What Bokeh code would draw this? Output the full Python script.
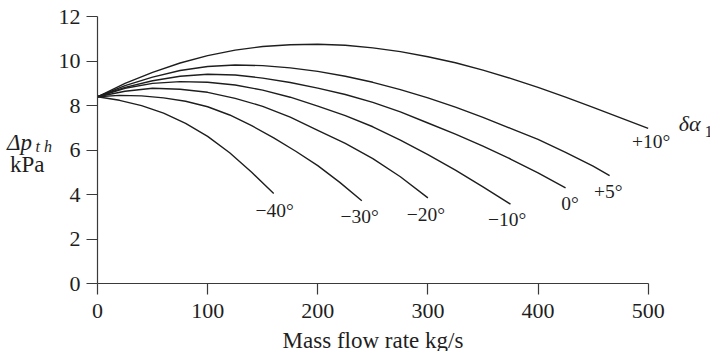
from bokeh.plotting import figure
from bokeh.models import Range1d, FixedTicker
from bokeh.layouts import row, column
from bokeh.core.properties import value
from bokeh.embed import file_html
from bokeh.resources import INLINE

# ---- data ----
x_p10 = [0, 25, 50, 75, 100, 125, 150, 175, 200, 225, 250, 275, 300, 325, 350, 375, 400, 425, 450, 475, 500]
y_p10 = [8.4, 9.0, 9.5, 9.92, 10.25, 10.5, 10.66, 10.74, 10.76, 10.72, 10.6, 10.43, 10.2, 9.93, 9.6, 9.23, 8.82, 8.38, 7.92, 7.45, 6.98]

x_p5 = [0, 25, 50, 75, 100, 125, 150, 175, 200, 225, 250, 275, 300, 325, 350, 375, 400, 425, 450, 465]
y_p5 = [8.4, 8.9, 9.28, 9.58, 9.76, 9.83, 9.8, 9.7, 9.54, 9.32, 9.05, 8.72, 8.35, 7.93, 7.47, 6.98, 6.48, 5.9, 5.28, 4.85]

x_0 = [0, 25, 50, 75, 100, 125, 150, 175, 200, 225, 250, 275, 300, 325, 350, 375, 400, 425]
y_0 = [8.4, 8.82, 9.12, 9.32, 9.41, 9.38, 9.24, 9.04, 8.79, 8.5, 8.15, 7.72, 7.22, 6.72, 6.18, 5.6, 4.98, 4.3]

x_m10 = [0, 25, 50, 75, 100, 125, 150, 175, 200, 225, 250, 275, 300, 325, 350, 375]
y_m10 = [8.4, 8.78, 9.0, 9.08, 9.05, 8.93, 8.7, 8.38, 7.98, 7.55, 7.05, 6.45, 5.8, 5.1, 4.35, 3.57]

x_m20 = [0, 25, 50, 75, 100, 125, 150, 175, 200, 225, 250, 275, 300]
y_m20 = [8.4, 8.65, 8.78, 8.74, 8.6, 8.33, 7.97, 7.48, 6.89, 6.3, 5.62, 4.8, 3.85]

x_m30 = [0, 20, 40, 60, 80, 100, 120, 140, 160, 180, 200, 220, 240]
y_m30 = [8.4, 8.46, 8.44, 8.35, 8.2, 7.95, 7.58, 7.1, 6.55, 5.95, 5.3, 4.55, 3.72]

x_m40 = [0, 20, 40, 60, 80, 100, 120, 140, 160]
y_m40 = [8.4, 8.24, 8.0, 7.66, 7.2, 6.62, 5.88, 5.0, 4.05]

curve_labels = ["+10°", "+5°", "0°", "−10°", "−20°", "−30°", "−40°"]
label_x = [502.7, 463.7, 429, 372, 298.2, 238, 160.8]
label_y = [6.4, 4.14, 3.6, 2.9, 3.12, 3.02, 3.3]

x_ticks = [0, 100, 200, 300, 400, 500]
y_ticks = [0, 2, 4, 6, 8, 10, 12]

x_title = "Mass flow rate kg/s"
y_title_sym = "Δp"
y_title_sub = "t h"
y_title_unit = "kPa"
param_sym = "δα"
param_sub = "1"

FONT = "Liberation Serif"
INK = "#1e1e1e"
Y_RANGE = (0, 12.28)


def blank(w, h, xr, yr):
    f = figure(width=w, height=h, output_backend="svg", toolbar_location=None,
               x_range=xr, y_range=yr, x_axis_type=None, y_axis_type=None,
               min_border=0)
    f.outline_line_color = None
    f.background_fill_color = "white"
    f.border_fill_color = "white"
    f.xgrid.visible = False
    f.ygrid.visible = False
    return f


# ---- main plot ----
p = figure(width=618, height=330, output_backend="svg", toolbar_location=None,
           x_range=Range1d(0, 522.1), y_range=Range1d(*Y_RANGE),
           min_border_left=43, min_border_right=0, min_border_top=10, min_border_bottom=47)
p.outline_line_color = None
p.xgrid.visible = False
p.ygrid.visible = False
p.background_fill_color = "white"
p.border_fill_color = "white"

for ax, ticks in ((p.xaxis, x_ticks), (p.yaxis, y_ticks)):
    ax.ticker = FixedTicker(ticks=ticks)
    ax.bounds = (ticks[0], ticks[-1])
    ax.minor_tick_line_color = None
    ax.major_tick_in = 0
    ax.major_tick_out = 11
    ax.axis_line_color = "#3a3a3a"
    ax.major_tick_line_color = "#3a3a3a"
    ax.axis_line_width = 1.2
    ax.major_tick_line_width = 1.2
    ax.major_label_text_font = FONT
    ax.major_label_text_font_size = "22px"
    ax.major_label_text_color = INK
p.xaxis.major_label_standoff = 9
p.yaxis.major_label_standoff = 6

series = [(x_p10, y_p10), (x_p5, y_p5), (x_0, y_0), (x_m10, y_m10),
          (x_m20, y_m20), (x_m30, y_m30), (x_m40, y_m40)]
for xs, ys in series:
    p.line(xs, ys, line_color=INK, line_width=1.4)

p.text(x=label_x, y=label_y, text=curve_labels, text_font=value(FONT),
       text_font_size="19.5px", text_align="center", text_baseline="middle", text_color=INK)

# ---- left strip: y-axis title (same vertical scale as the main plot) ----
left = blank(54, 330, Range1d(0, 54), Range1d(*Y_RANGE))
left.text(x=[6.5], y=[6.32], text=[y_title_sym], text_font=value(FONT), text_font_style="italic",
          text_font_size="23px", text_color=INK, text_baseline="middle")
left.text(x=[35], y=[6.15], text=[y_title_sub], text_font=value(FONT), text_font_style="italic",
          text_font_size="16px", text_color=INK, text_baseline="middle")
left.text(x=[9.5], y=[5.35], text=[y_title_unit], text_font=value(FONT),
          text_font_size="23px", text_color=INK, text_baseline="middle")

# ---- right strip: parameter symbol ----
right = blank(38, 330, Range1d(0, 38), Range1d(*Y_RANGE))
right.text(x=[6.3], y=[7.2], text=[param_sym], text_font=value(FONT), text_font_style="italic",
           text_font_size="22px", text_color=INK, text_baseline="middle")
right.text(x=[32.3], y=[6.84], text=[param_sub], text_font=value(FONT),
           text_font_size="16px", text_color=INK, text_baseline="middle")

# ---- bottom strip: x-axis title ----
bottom = blank(710, 21, Range1d(0, 710), Range1d(21, 0))
bottom.text(x=[372.5], y=[10.0], text=[x_title], text_font=value(FONT),
            text_font_size="23px", text_color=INK, text_align="center", text_baseline="middle")

layout = column(row(left, p, right, spacing=0), bottom, spacing=0)
open("out.html", "w").write(file_html(layout, INLINE))
